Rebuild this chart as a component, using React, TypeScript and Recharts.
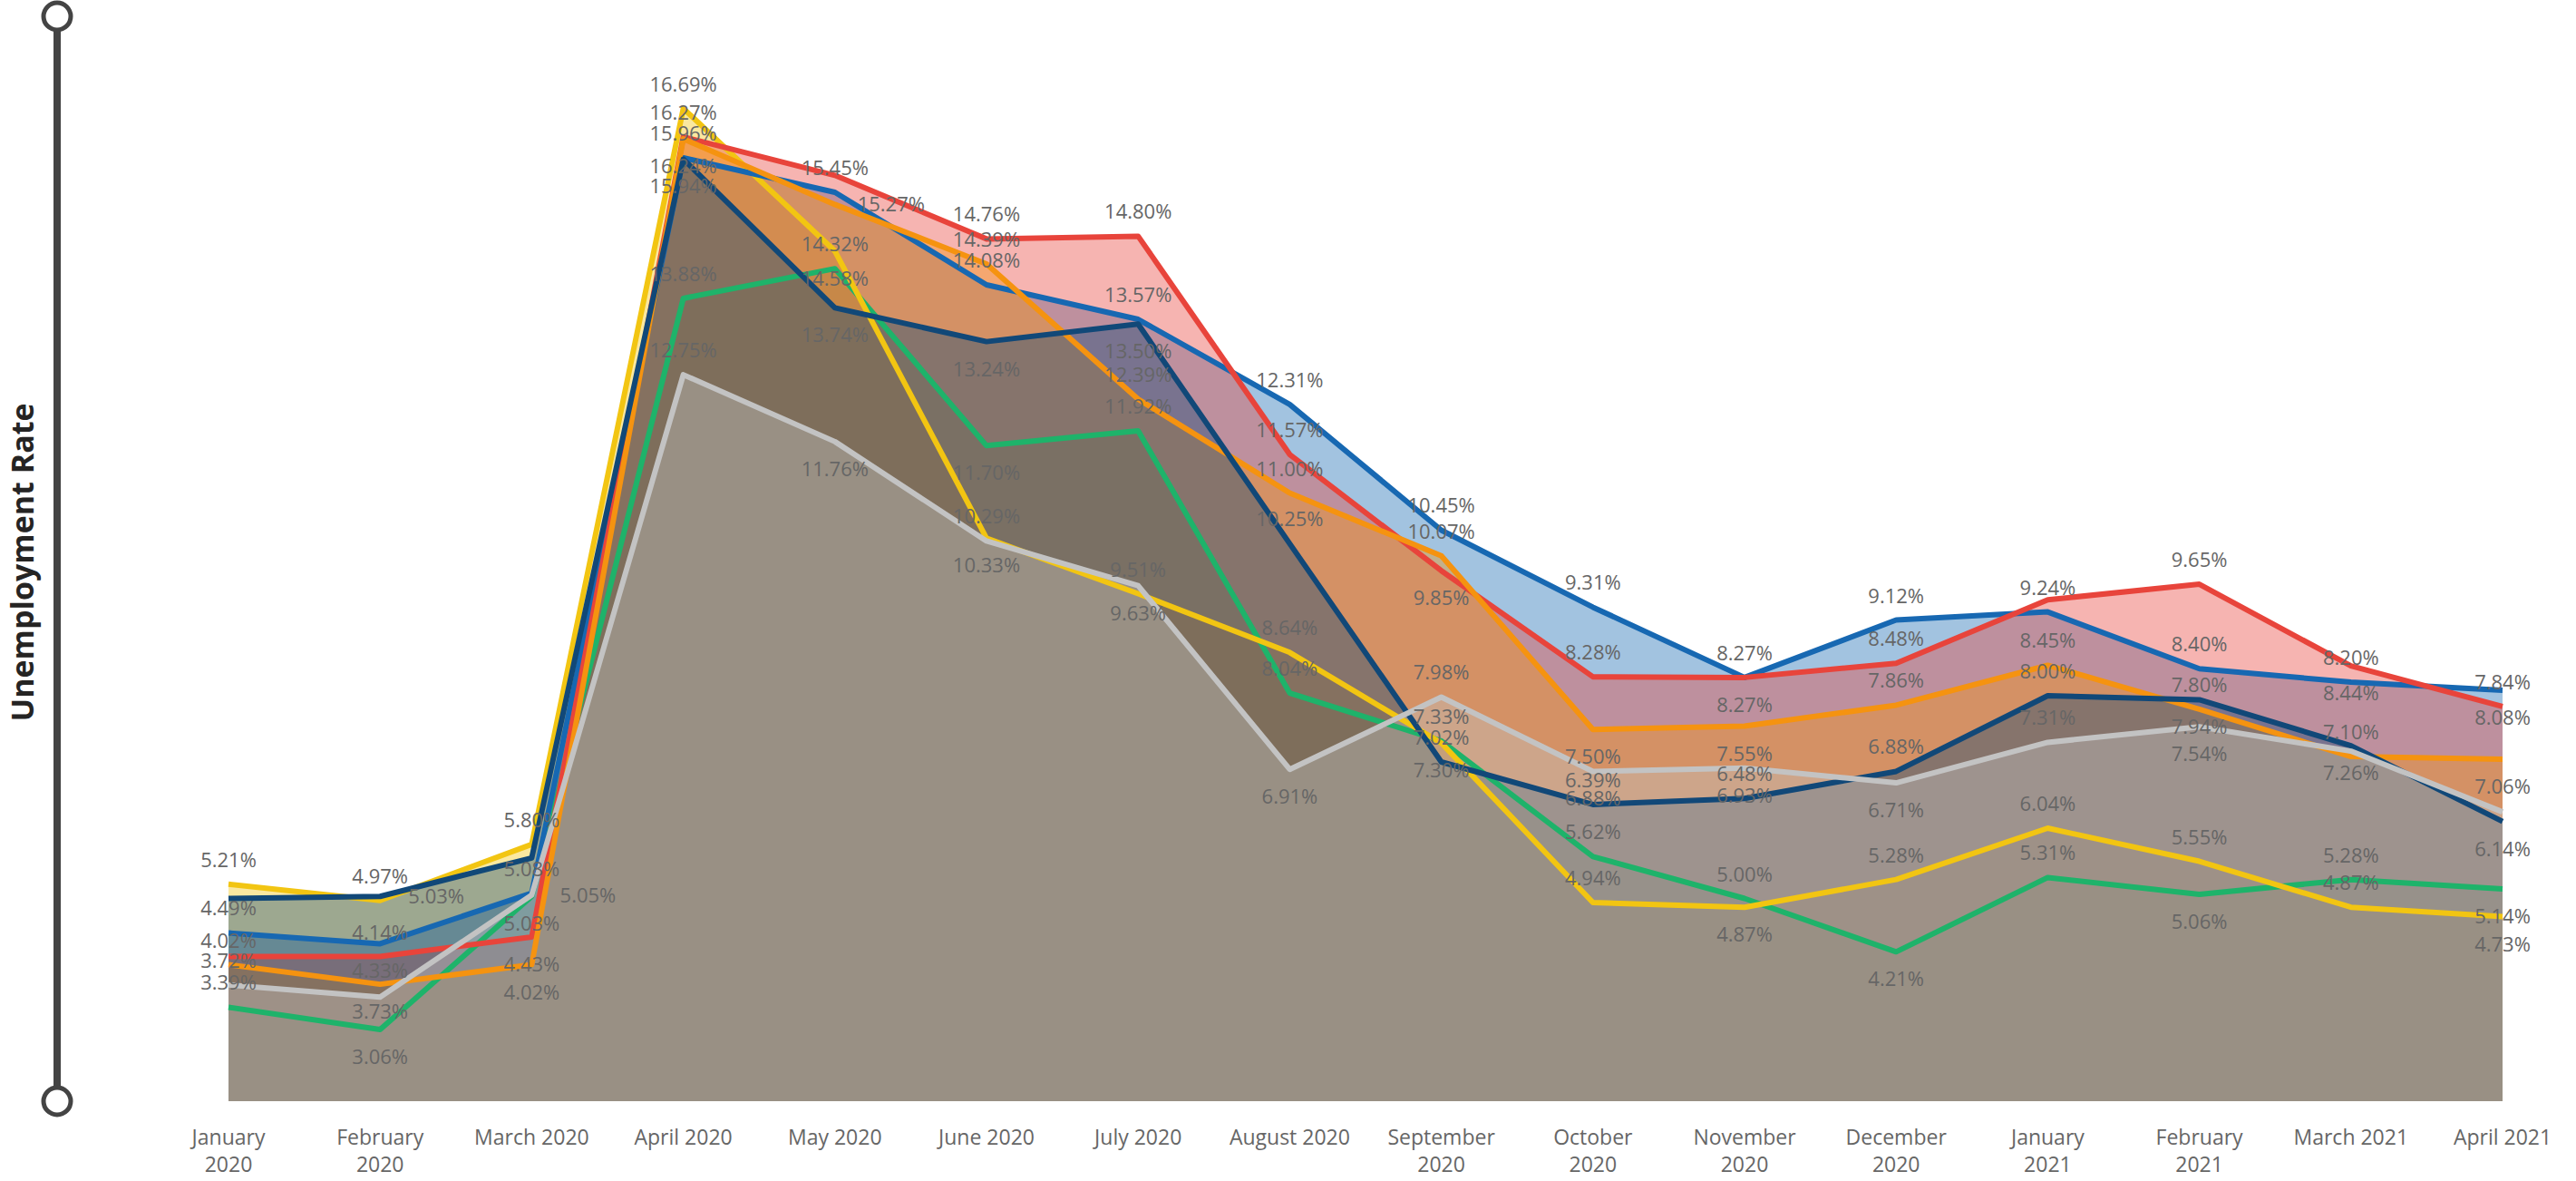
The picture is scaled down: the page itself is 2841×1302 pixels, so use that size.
import React from 'react';
import { ComposedChart, Area, Line, XAxis, YAxis } from 'recharts';

// months on the x axis
const MONTHS = [
  'January 2020', 'February 2020', 'March 2020', 'April 2020', 'May 2020', 'June 2020',
  'July 2020', 'August 2020', 'September 2020', 'October 2020', 'November 2020', 'December 2020',
  'January 2021', 'February 2021', 'March 2021', 'April 2021',
];

// unemployment rate (%) per series
const GREEN = [3.39, 3.06, 5.03, 13.88, 14.32, 11.70, 11.92, 8.04, 7.33, 5.62, 5.00, 4.21, 5.31, 5.06, 5.28, 5.14];
const YELLOW = [5.21, 4.97, 5.80, 16.69, 14.58, 10.33, 9.51, 8.64, 7.30, 4.94, 4.87, 5.28, 6.04, 5.55, 4.87, 4.73];
const BLUE = [4.49, 4.33, 5.08, 15.96, 15.45, 14.08, 13.57, 12.31, 10.45, 9.31, 8.27, 9.12, 9.24, 8.40, 8.20, 8.08];
const RED = [4.14, 4.14, 4.43, 16.27, 15.70, 14.76, 14.80, 11.57, 9.85, 8.28, 8.27, 8.48, 9.42, 9.65, 8.44, 7.84];
const ORANGE = [4.02, 3.73, 4.02, 16.24, 15.27, 14.39, 12.39, 11.00, 10.07, 7.50, 7.55, 7.86, 8.45, 7.80, 7.10, 7.06];
const NAVY = [5.00, 5.03, 5.60, 15.94, 13.74, 13.24, 13.50, 10.25, 7.02, 6.39, 6.48, 6.88, 8.00, 7.94, 7.26, 6.14];
const GRAY = [3.72, 3.54, 5.05, 12.75, 11.76, 10.29, 9.63, 6.91, 7.98, 6.88, 6.93, 6.71, 7.31, 7.54, 7.18, 6.28];

// where each data label sits, one letter per month:
// a = above the point, b = below, r = right of it, - = not shown (as in the report)
const LABEL_SIDE: Record<string, string> = {
  green: 'abbaabaaaaababab',
  yellow: 'aaaabbaababaaaab',
  blue: 'abaaaaaaaaaaaaab',
  red: '-aba-aaababa-aba',
  orange: 'abbbraaaabbaaaab',
  navy: '-r-bbbbaaaaaabbb',
  gray: 'a-rababbabbbab--',
};

const Y_MIN = 2;
const Y_MAX = 18;

// draw order, bottom to top
const SERIES = [
  { key: 'green', color: '#1eb36a', values: GREEN },
  { key: 'yellow', color: '#f2c512', values: YELLOW },
  { key: 'blue', color: '#1768b2', values: BLUE },
  { key: 'red', color: '#e8443b', values: RED },
  { key: 'orange', color: '#f59310', values: ORANGE },
  { key: 'navy', color: '#114878', values: NAVY },
  { key: 'gray', color: '#c3c3c3', values: GRAY },
];

const data = MONTHS.map((month, i) => {
  const row: Record<string, any> = { month };
  SERIES.forEach((s) => { row[s.key] = s.values[i]; });
  return row;
});

const W = 2841;
const H = 1302;
const MARGIN = { top: 22, right: 81, bottom: 8, left: 252 };
const X_AXIS_H = 80;

const FONT = '"Open Sans", "Segoe UI", sans-serif';
const LABEL_COLOR = '#666666';
const fmt = (v: number) => `${v.toFixed(2)}%`;

const SIDE_OFFSET: Record<string, { dx: number; dy: number }> = {
  a: { dx: 0, dy: -19 },
  b: { dx: 0, dy: 38 },
  r: { dx: 62, dy: 8 },
};

const MonthTick = (props: any) => {
  const { x, y, payload } = props;
  const label: string = payload.value;
  let parts = [label];
  if (label.length > 11) {
    const cut = label.lastIndexOf(' ');
    parts = [label.slice(0, cut), label.slice(cut + 1)];
  }
  return (
    <text x={x} y={y} textAnchor="middle" fill={LABEL_COLOR} fontSize={23} fontFamily={FONT}>
      {parts.map((p, i) => (
        <tspan key={i} x={x} dy={i === 0 ? 48 : 30}>{p}</tspan>
      ))}
    </text>
  );
};

const makeLabelDot = (key: string) => (props: any) => {
  const { cx, cy, index, value } = props;
  const off = SIDE_OFFSET[LABEL_SIDE[key][index]];
  if (!off || cx == null || cy == null) return <g key={`l-${key}-${index}`} />;
  return (
    <text
      key={`l-${key}-${index}`}
      x={cx + off.dx}
      y={cy + off.dy}
      textAnchor="middle"
      fill={LABEL_COLOR}
      fontSize={22}
      fontFamily={FONT}
    >
      {fmt(value)}
    </text>
  );
};

export default function App() {
  return (
    <div style={{ position: 'absolute', left: 0, top: 0, width: W, height: H, background: '#fff' }}>
      <svg width={120} height={H} style={{ position: 'absolute', left: 0, top: 0 }}>
        <line x1={63} y1={18} x2={63} y2={1214} stroke="#444444" strokeWidth={8} />
        <circle cx={63} cy={18} r={15} fill="#fff" stroke="#444444" strokeWidth={5} />
        <circle cx={63} cy={1214} r={15} fill="#fff" stroke="#444444" strokeWidth={5} />
        <text
          x={24}
          y={620}
          transform="rotate(-90 24 620)"
          textAnchor="middle"
          dominantBaseline="central"
          fontSize={34}
          fontWeight={700}
          fontFamily={FONT}
          fill="#252423"
        >
          Unemployment Rate
        </text>
      </svg>
      <div style={{ position: 'absolute', left: 0, top: 0 }}>
        <ComposedChart width={W} height={H} data={data} margin={MARGIN}>
          <XAxis
            dataKey="month"
            scale="point"
            padding={{ left: 0, right: 0 }}
            interval={0}
            axisLine={false}
            tickLine={false}
            tickSize={0}
            tickMargin={0}
            height={X_AXIS_H}
            tick={<MonthTick />}
          />
          <YAxis hide type="number" domain={[Y_MIN, Y_MAX]} allowDataOverflow />
          {SERIES.map((s) => (
            <Area
              key={`a-${s.key}`}
              type="linear"
              dataKey={s.key}
              baseValue="dataMin"
              fill={s.color}
              fillOpacity={0.4}
              stroke="none"
              isAnimationActive={false}
              activeDot={false}
            />
          ))}
          {SERIES.map((s) => (
            <Line
              key={`l-${s.key}`}
              type="linear"
              dataKey={s.key}
              stroke={s.color}
              strokeWidth={6}
              strokeLinejoin="round"
              dot={false}
              activeDot={false}
              isAnimationActive={false}
            />
          ))}
          {SERIES.map((s) => (
            <Line
              key={`t-${s.key}`}
              type="linear"
              dataKey={s.key}
              stroke="none"
              dot={makeLabelDot(s.key)}
              activeDot={false}
              legendType="none"
              isAnimationActive={false}
            />
          ))}
        </ComposedChart>
      </div>
    </div>
  );
}
